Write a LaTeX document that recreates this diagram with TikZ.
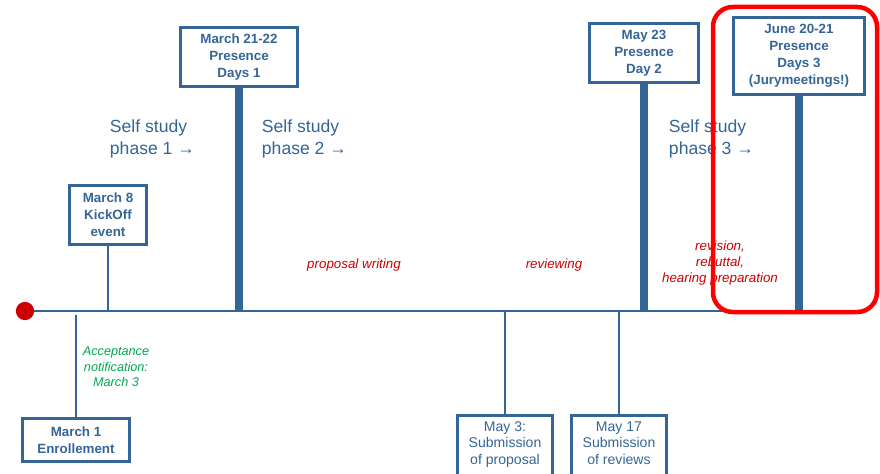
\documentclass[tikz,border=0pt]{standalone}
\usepackage{fontspec}
\setmainfont{Liberation Sans}
\usepackage{tikz,xcolor}
\usetikzlibrary{positioning}
\definecolor{tlblue}{RGB}{52,101,151}
\definecolor{tlred}{RGB}{204,0,0}
\definecolor{tlgreen}{RGB}{0,168,80}
\tikzstyle{datebox} = [draw=tlblue,line width=2pt,text=tlblue,align=center,inner sep=1pt,font=\bfseries\fontsize{9.5}{12}\selectfont]
\tikzstyle{subbox} = [datebox,font=\fontsize{10}{11.8}\selectfont]
\tikzstyle{pole} = [draw=tlblue,line width=2pt]
\tikzstyle{bigpole} = [draw=tlblue,line width=5pt]
\tikzstyle{phase} = [text=tlblue,align=left,anchor=west,font=\fontsize{12.5}{15}\selectfont]
\tikzstyle{task} = [text=tlred,align=center,font=\itshape\fontsize{9.5}{11.7}\selectfont]

\begin{document}
\begin{tikzpicture}[x=0.025cm,y=-0.025cm]
    \useasboundingbox (0,0) rectangle (880,473);
    % create the nodes
    \node (start) [circle, fill=tlred, minimum size=13pt, inner sep=0pt] at (25,311) {};
    \coordinate (tlend) at (800,311);
    \node (kick) [datebox, minimum width=54.6pt, minimum height=42.5pt] at (108,215) {March 8\\KickOff\\event};
    \node (enroll) [datebox, minimum width=76.5pt, minimum height=31pt] at (76,440) {March 1\\Enrollement};
    \node (ack) [text=tlgreen, align=center, font=\itshape\fontsize{9}{11}\selectfont] at (116,367) {Acceptance\\notification:\\March 3};
    \node (pres1) [datebox, minimum width=83.6pt, minimum height=42.5pt] at (239,57) {March 21-22\\Presence\\Days 1};
    \node (self1) [phase] at (105,139) {Self study\\phase 1 →};
    \node (self2) [phase] at (257,139) {Self study\\phase 2 →};
    \node (write) [task] at (354,265) {proposal writing};
    \node (review) [task] at (554,265) {reviewing};
    \node (may3) [subbox, minimum width=67pt, minimum height=52pt, anchor=north] at (505,414) {May 3:\\Submission\\of proposal\\[1pt]};
    \node (may17) [subbox, minimum width=67pt, minimum height=52pt, anchor=north] at (619,414) {May 17\\Submission\\of reviews\\[1pt]};
    \node (pres2) [datebox, minimum width=77pt, minimum height=42pt] at (644,53) {May 23\\Presence\\Day 2};
    \node (self3) [phase] at (664,139) {Self study\\phase 3 →};
    \node (revise) [task] at (720,263) {revision,\\rebuttal,\\hearing preparation};
    \node (pres3) [datebox, minimum width=93.5pt, minimum height=54.6pt] at (799,56) {June 20-21\\Presence\\Days 3\\(Jurymeetings!)};
    % connect the nodes
    \draw[pole] (start) -- (tlend);
    \draw[pole] (kick) -- (kick |- start);
    \draw[pole] (enroll) -- ([yshift=-3pt]enroll |- start);
    \draw[bigpole] (pres1) -- (pres1 |- start);
    \draw[pole] (may3) -- (may3 |- start);
    \draw[pole] (may17) -- (may17 |- start);
    \draw[bigpole] (pres2) -- (pres2 |- start);
    \draw[bigpole] (pres3) -- (pres3 |- start);
    % highlight the jury meetings
    \draw[red, line width=3.2pt, rounded corners=14pt] (713,7) rectangle (877,312);
\end{tikzpicture}
\end{document}
